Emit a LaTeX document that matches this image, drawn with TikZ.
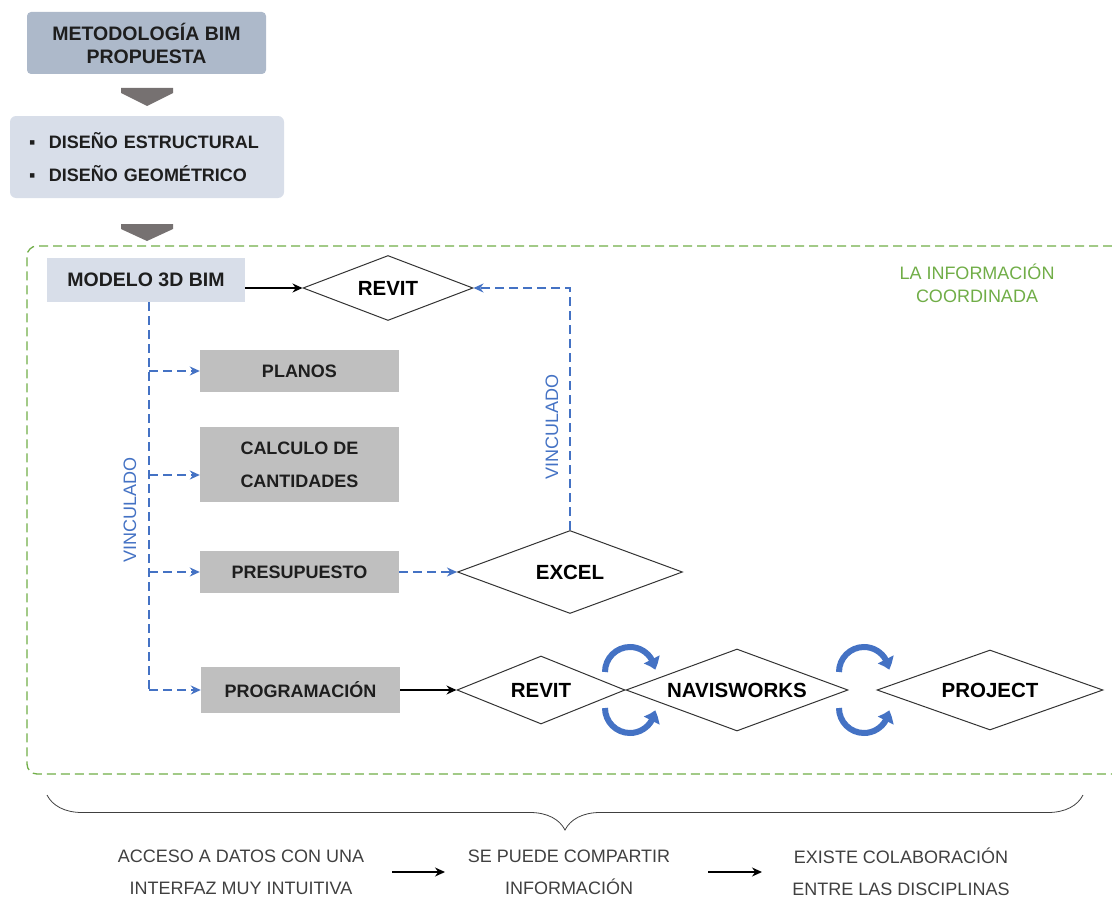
\documentclass[tikz,border=0pt]{standalone}
\usepackage{fontspec}
\setmainfont{Liberation Sans}
\usetikzlibrary{shapes.geometric, arrows.meta, bending, decorations.pathreplacing}
\definecolor{titlegray}{RGB}{173,185,202}
\definecolor{lightblue}{RGB}{216,222,233}
\definecolor{boxgray}{RGB}{191,191,191}
\definecolor{arrowgray}{RGB}{118,113,113}
\definecolor{linkblue}{RGB}{68,114,196}
\definecolor{infogreen}{RGB}{112,173,71}
\definecolor{textdark}{RGB}{30,30,30}
\definecolor{textgray}{RGB}{64,64,64}
\tikzstyle{blocktitle} = [rectangle, rounded corners=4pt, minimum width=239pt, minimum height=62pt, align=center, fill=titlegray, text=textdark, font=\fontsize{19.5}{23}\selectfont\bfseries]
\tikzstyle{blocklight} = [rectangle, minimum width=198pt, minimum height=44pt, fill=lightblue, text=textdark, font=\fontsize{19.5}{22}\selectfont\bfseries]
\tikzstyle{blockgray} = [rectangle, minimum width=199pt, minimum height=42pt, align=center, fill=boxgray, text=textdark, font=\fontsize{18}{33}\selectfont\bfseries]
\tikzstyle{decision} = [diamond, shape aspect=2.7, inner sep=0pt, draw=black!80, line width=1pt, font=\fontsize{20.5}{24}\selectfont\bfseries]
\tikzstyle{arrow} = [line width=1.3pt,-{Stealth[length=10pt,width=9pt]}]
\tikzstyle{link} = [linkblue, line width=1.4pt, dash pattern=on 9pt off 5pt]
\tikzstyle{linkarrow} = [link, -{Stealth[length=10pt,width=9pt]}]
\tikzstyle{loopblue} = [linkblue, line width=6pt, -{Triangle[bend,length=11pt,width=17pt]}]
\tikzstyle{note} = [inner sep=0pt, align=center, text=textgray, font=\fontsize{18}{32}\selectfont]

\begin{document}
\begin{tikzpicture}[x=1pt, y=-1pt]
\useasboundingbox (0,0) rectangle (1112,899);

% methodology header
\node (metodo) [blocktitle] at (146.5,43) {METODOLOGÍA BIM\\PROPUESTA};
\fill[arrowgray] (121,88) -- (173,88) -- (173,93) -- (147,106) -- (121,93) -- cycle;
\node (diseno) [rectangle, rounded corners=6pt, fill=lightblue, minimum width=274pt, minimum height=82pt, inner xsep=19pt, text width=236pt, align=left, text=textdark, font=\fontsize{18}{33}\selectfont\bfseries] at (147,157) {\makebox[20pt][l]{▪}DISEÑO ESTRUCTURAL\\\makebox[20pt][l]{▪}DISEÑO GEOMÉTRICO};
\fill[arrowgray] (121,224) -- (173,224) -- (173,229) -- (147,241) -- (121,229) -- cycle;

% coordinated information frame
\draw[infogreen, line width=1.3pt, dash pattern=on 9pt off 5pt, rounded corners=10pt] (1112,246) -| (27,774) -- (1112,774);
\node (coordinada) [text=infogreen, align=center, font=\fontsize{18}{23}\selectfont] at (977,283) {LA INFORMACIÓN\\COORDINADA};

\node (modelo) [blocklight] at (146,280) {MODELO 3D BIM};
\node (revitA) [decision, minimum width=170pt, minimum height=65pt] at (388,288) {REVIT};
\node (planos) [blockgray] at (299.5,371) {PLANOS};
\node (calculo) [blockgray, minimum height=75pt] at (299.5,464.5) {CALCULO DE\\CANTIDADES};
\node (presup) [blockgray] at (299.5,572) {PRESUPUESTO};
\node (program) [blockgray, minimum height=46pt] at (300.5,690) {PROGRAMACIÓN};
\node (excel) [decision, minimum width=225pt, minimum height=83pt] at (570,572) {EXCEL};
\node (revitB) [decision, minimum width=168pt, minimum height=68pt] at (541,690) {REVIT};
\node (navis) [decision, minimum width=222pt, minimum height=82pt] at (737,690) {NAVISWORKS};
\node (project) [decision, minimum width=226pt, minimum height=80pt] at (990,690) {PROJECT};

\draw [arrow] (modelo.east |- revitA.west) -- (revitA.west);

% linked outputs of the model
\coordinate (trunk) at ([xshift=3pt]modelo.south);
\draw [link] (trunk) -- (trunk |- program.west);
\draw [linkarrow] (trunk |- planos.west) -- (planos.west);
\draw [linkarrow] ([yshift=-10.5pt]trunk |- calculo.west) -- ([yshift=-10.5pt]calculo.west);
\draw [linkarrow] (trunk |- presup.west) -- (presup.west);
\draw [linkarrow] (trunk |- program.west) -- (program.west);
\node (vincA) [rotate=90, text=linkblue, font=\fontsize{18}{22}\selectfont] at (130,510) {VINCULADO};

\draw [linkarrow] (presup) -- (excel);
\draw [linkarrow] (excel.north) |- (revitA.east);
\node (vincB) [rotate=90, text=linkblue, font=\fontsize{18}{22}\selectfont] at (552,427) {VINCULADO};

\draw [arrow] (program) -- (revitB);

% exchange loops
\draw [loopblue] (605,672) arc[start angle=180, end angle=355, radius=25];
\draw [loopblue] (605,708) arc[start angle=180, end angle=5, radius=25];
\draw [loopblue] (839,672) arc[start angle=180, end angle=355, radius=25];
\draw [loopblue] (839,708) arc[start angle=180, end angle=5, radius=25];

% benefits
\draw [decorate, decoration={brace, mirror, amplitude=35pt}, textgray, line width=0.8pt] (47,795) -- (1083,795);
\node (acceso) [note] at (241,872) {ACCESO A DATOS CON UNA\\INTERFAZ MUY INTUITIVA};
\node (compartir) [note] at (569,872) {SE PUEDE COMPARTIR\\INFORMACIÓN};
\node (existe) [note] at (901,872) {EXISTE COLABORACIÓN\\ENTRE LAS DISCIPLINAS};
\draw [arrow] ([xshift=151pt]acceso.center) -- ([xshift=-124pt]compartir.center);
\draw [arrow] ([xshift=139pt]compartir.center) -- ([xshift=-139pt]existe.center);

\end{tikzpicture}
\end{document}
